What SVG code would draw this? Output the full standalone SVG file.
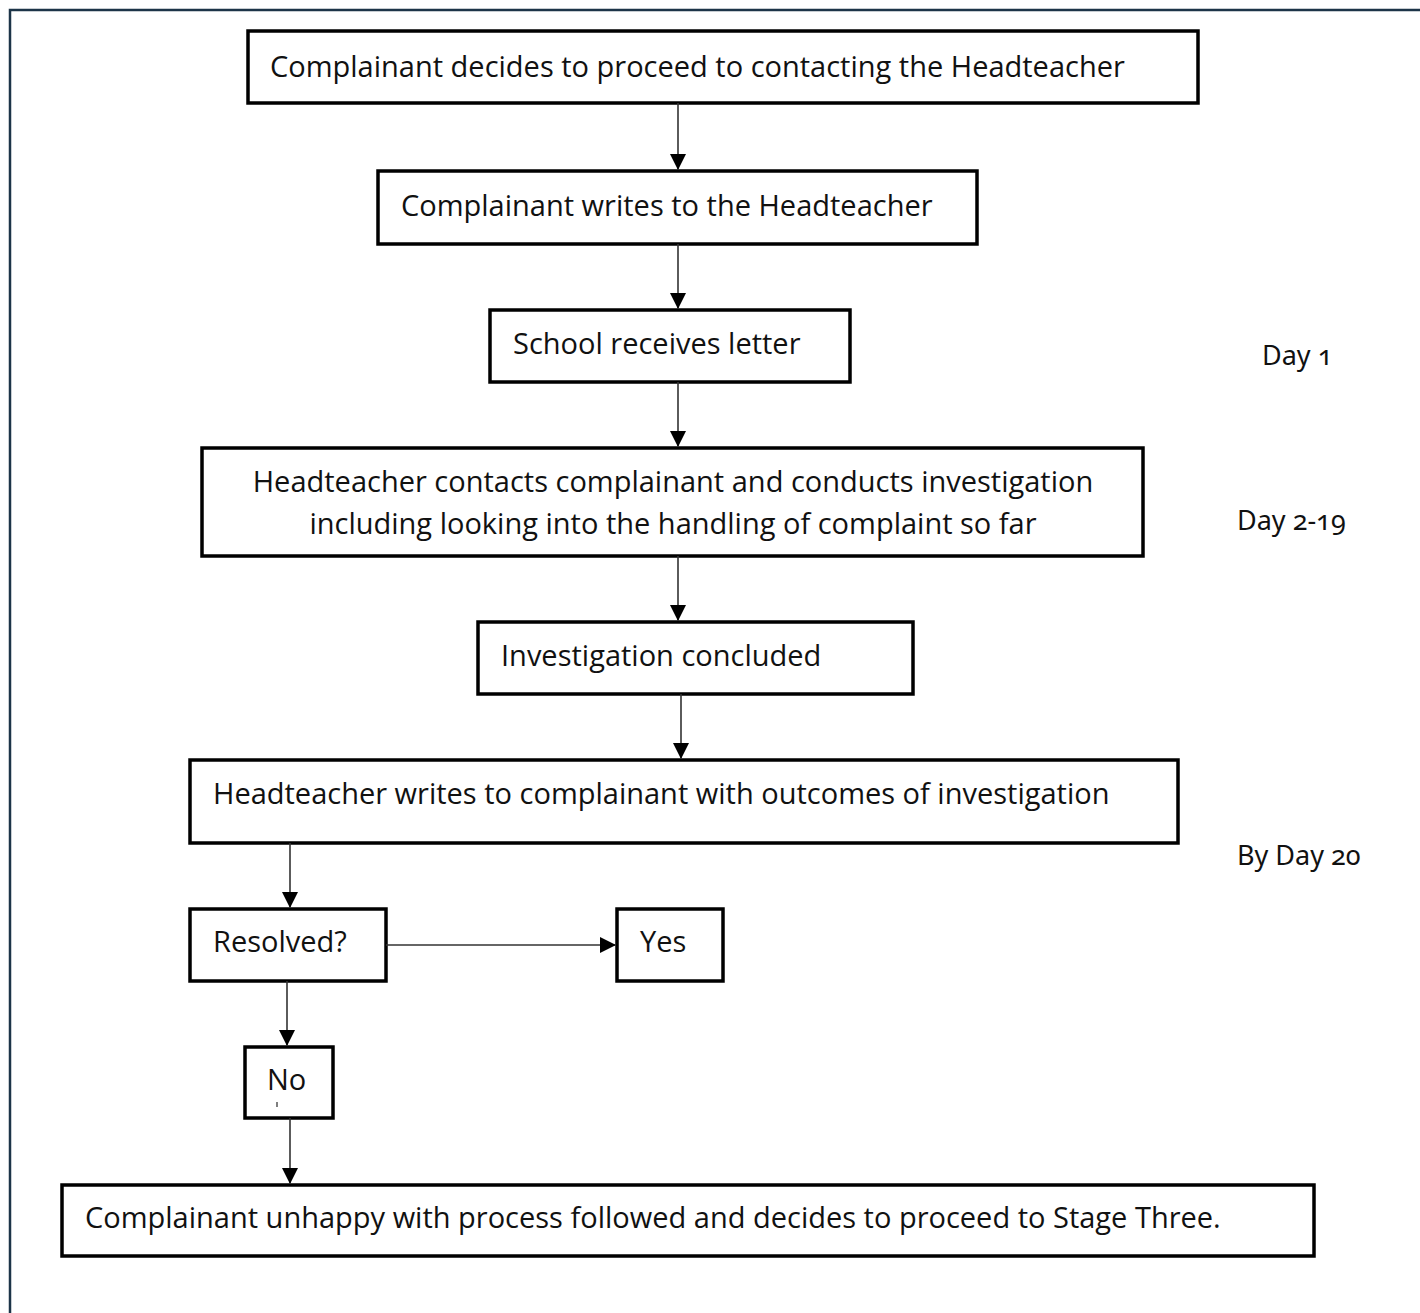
<svg xmlns="http://www.w3.org/2000/svg" width="1420" height="1313" viewBox="0 0 1420 1313">
<defs>
<marker id="ah" markerWidth="16" markerHeight="16" refX="15" refY="8" orient="auto" markerUnits="userSpaceOnUse">
<path d="M0,0 L16,8 L0,16 Z" fill="#000"/>
</marker>
<style>
.box{fill:#fff;stroke:#000;stroke-width:3.5}
.t{font-family:"Open Sans","Noto Sans","DejaVu Sans",sans-serif;font-size:29px;fill:#111}
.d{font-family:"Noto Sans","Open Sans",sans-serif;font-size:27px;fill:#111;font-variant-numeric:oldstyle-nums}
.c{fill:none;stroke:#333;stroke-width:1.6;marker-end:url(#ah)}
</style>
</defs>
<rect width="1420" height="1313" fill="#fff"/>
<path d="M10,1313 V10 H1420" fill="none" stroke="#1c3448" stroke-width="2.5"/>
<g id="n1"><rect class="box" x="248" y="31" width="950" height="72"/><text class="t" x="270" y="77">Complainant decides to proceed to contacting the Headteacher</text></g>
<g id="n2"><rect class="box" x="378" y="171" width="599" height="73"/><text class="t" x="401" y="216">Complainant writes to the Headteacher</text></g>
<g id="n3"><rect class="box" x="490" y="310" width="360" height="72"/><text class="t" x="513" y="354">School receives letter</text></g>
<g id="n4"><rect class="box" x="202" y="448" width="941" height="108"/><text class="t" x="673" y="492" text-anchor="middle">Headteacher contacts complainant and conducts investigation</text><text class="t" x="673" y="534" text-anchor="middle">including looking into the handling of complaint so far</text></g>
<g id="n5"><rect class="box" x="478" y="622" width="435" height="72"/><text class="t" x="501" y="666">Investigation concluded</text></g>
<g id="n6"><rect class="box" x="190" y="760" width="988" height="83"/><text class="t" x="213" y="804">Headteacher writes to complainant with outcomes of investigation</text></g>
<g id="n7"><rect class="box" x="190" y="909" width="196" height="72"/><text class="t" x="213" y="952">Resolved?</text></g>
<g id="n8"><rect class="box" x="617" y="909" width="106" height="72"/><text class="t" x="640" y="952">Yes</text></g>
<g id="n9"><rect class="box" x="245" y="1047" width="88" height="71"/><text class="t" x="267" y="1090">No</text><line x1="277" y1="1102" x2="277" y2="1107" stroke="#555" stroke-width="1.5"/></g>
<g id="n10"><rect class="box" x="62" y="1185" width="1252" height="71"/><text class="t" x="85" y="1228">Complainant unhappy with process followed and decides to proceed to Stage Three.</text></g>
<g id="labels">
<text class="d" x="1262" y="365">Day 1</text>
<text class="d" x="1237" y="530">Day 2-19</text>
<text class="d" x="1237" y="865">By Day 20</text>
</g>
<g id="connectors">
<line class="c" x1="678" y1="103" x2="678" y2="169"/>
<line class="c" x1="678" y1="244" x2="678" y2="308"/>
<line class="c" x1="678" y1="382" x2="678" y2="446"/>
<line class="c" x1="678" y1="556" x2="678" y2="620"/>
<line class="c" x1="681" y1="694" x2="681" y2="758"/>
<line class="c" x1="290" y1="843" x2="290" y2="907"/>
<line class="c" x1="386" y1="945" x2="615" y2="945"/>
<line class="c" x1="287" y1="981" x2="287" y2="1045"/>
<line class="c" x1="290" y1="1118" x2="290" y2="1183"/>
</g>
</svg>
